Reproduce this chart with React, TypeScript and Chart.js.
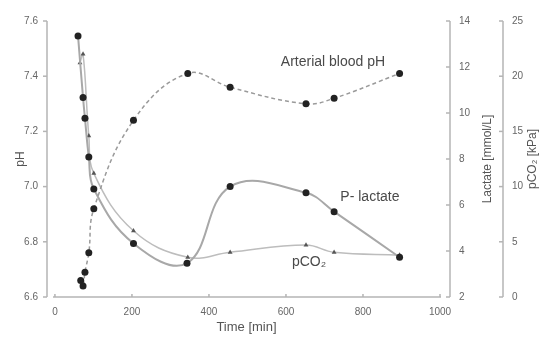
import React, { useEffect, useRef } from "react";
import { Chart, registerables } from "chart.js";

Chart.register(...registerables);

// ---- Data ----
const phTime = [67, 73, 78, 88, 101, 204, 345, 455, 652, 725, 895];
const phValues = [6.66, 6.64, 6.69, 6.76, 6.92, 7.24, 7.41, 7.36, 7.3, 7.32, 7.41];

const lactateTime = [60, 73, 78, 88, 101, 204, 343, 455, 652, 725, 895];
const lactateValues = [13.35, 10.67, 9.77, 8.09, 6.7, 4.33, 3.47, 6.8, 6.53, 5.71, 3.73];

const pco2Time = [65, 73, 88, 101, 204, 345, 455, 652, 725, 895];
const pco2Values = [21.2, 22.0, 14.6, 11.2, 6.0, 3.6, 4.05, 4.7, 4.05, 3.8];

const timeTicks = [0, 200, 400, 600, 800, 1000];
const phTicks = [6.6, 6.8, 7.0, 7.2, 7.4, 7.6];
const lactateTicks = [2, 4, 6, 8, 10, 12, 14];
const pco2Ticks = [0, 5, 10, 15, 20, 25];

const xTitle = "Time [min]";
const phTitle = "pH";
const lactateTitle = "Lactate [mmol/L]";
const pco2Title = "pCO\u2082 [kPa]";

// in-plot labels (text, time, value, scale id)
const seriesLabels = [
  { text: "Arterial blood pH", t: 722, v: 7.45, axis: "y" },
  { text: "P- lactate", t: 818, v: 6.36, axis: "yLac" },
  { text: "pCO\u2082", t: 660, v: 3.15, axis: "yCo2" },
];

const FONT = "'Liberation Sans', Arial, sans-serif";

const toPts = (xs: number[], ys: number[]) => xs.map((x, i) => ({ x, y: ys[i] }));

const customAxes = {
  id: "customAxes",
  afterDraw(chart: any) {
    const { ctx, chartArea, scales } = chart;
    const sx = scales.x;
    const sy = scales.y;
    const sl = scales.yLac;
    const sc = scales.yCo2;
    ctx.save();
    ctx.strokeStyle = "#b4b4b4";
    ctx.lineWidth = 1.5;
    const line = (x1: number, y1: number, x2: number, y2: number) => {
      ctx.beginPath();
      ctx.moveTo(x1, y1);
      ctx.lineTo(x2, y2);
      ctx.stroke();
    };
    // left pH axis (offset from plot)
    const lx = chartArea.left - 6;
    line(lx, sy.getPixelForValue(phTicks[phTicks.length - 1]), lx, sy.getPixelForValue(phTicks[0]));
    sy.ticks.forEach((t: any) => {
      const py = sy.getPixelForValue(t.value);
      line(lx - 4, py, lx, py);
    });
    // x axis
    const by = chartArea.bottom;
    line(chartArea.left, by, sx.getPixelForValue(1000) + 1, by);
    sx.ticks.forEach((t: any) => {
      const px = sx.getPixelForValue(t.value);
      line(px, by - 3, px, by);
    });
    // lactate axis
    const lacX = sl.left + 10;
    line(lacX, sl.getPixelForValue(14), lacX, sl.getPixelForValue(2));
    sl.ticks.forEach((t: any) => {
      const py = sl.getPixelForValue(t.value);
      line(lacX - 4, py, lacX, py);
    });
    // pCO2 axis
    const coX = sc.left;
    line(coX, sc.getPixelForValue(25), coX, sc.getPixelForValue(0));
    sc.ticks.forEach((t: any) => {
      const py = sc.getPixelForValue(t.value);
      line(coX - 4, py, coX, py);
    });

    // right titles, rotated bottom-to-top
    const midY = (chartArea.top + chartArea.bottom) / 2;
    ctx.fillStyle = "#555";
    ctx.font = `12px ${FONT}`;
    ctx.textAlign = "center";
    ctx.textBaseline = "middle";
    const vText = (text: string, x: number, y: number) => {
      ctx.save();
      ctx.translate(x, y);
      ctx.rotate(-Math.PI / 2);
      ctx.fillText(text, 0, 0);
      ctx.restore();
    };
    vText(lactateTitle, sl.left + 48, midY);
    vText(pco2Title, sc.left + 30, midY);

    // series labels
    ctx.fillStyle = "#4a4a4a";
    ctx.font = `14px ${FONT}`;
    seriesLabels.forEach((l) => {
      const s = scales[l.axis];
      ctx.fillText(l.text, sx.getPixelForValue(l.t), s.getPixelForValue(l.v));
    });
    ctx.restore();
  },
};

export default function App() {
  const ref = useRef<HTMLCanvasElement | null>(null);

  useEffect(() => {
    if (!ref.current) return;
    const tickFont = { family: FONT, size: 10 };
    const setTicks = (arr: number[]) => (scale: any) => {
      scale.ticks = arr.map((v) => ({ value: v }));
    };
    const fitV = (w: number) => (s: any) => {
      s.width = w;
      s.paddingTop = 0;
      s.paddingBottom = 0;
    };
    const noGrid = { display: false, drawTicks: false };
    const chart = new Chart(ref.current, {
      type: "line",
      data: {
        datasets: [
          {
            label: "pH",
            data: toPts(phTime, phValues),
            yAxisID: "y",
            borderColor: "#9a9a9a",
            borderWidth: 1.5,
            borderDash: [4, 3],
            tension: 0.4,
            pointRadius: 3.5,
            pointBackgroundColor: "#222",
            pointBorderColor: "#222",
            pointBorderWidth: 0,
          },
          {
            label: "Lactate",
            data: toPts(lactateTime, lactateValues),
            yAxisID: "yLac",
            borderColor: "#a8a8a8",
            borderWidth: 2,
            tension: 0.4,
            pointRadius: 3.5,
            pointBackgroundColor: "#222",
            pointBorderColor: "#222",
            pointBorderWidth: 0,
          },
          {
            label: "pCO2",
            data: toPts(pco2Time, pco2Values),
            yAxisID: "yCo2",
            borderColor: "#bdbdbd",
            borderWidth: 1.5,
            tension: 0.4,
            pointStyle: "triangle",
            pointRadius: 2.8,
            pointBackgroundColor: "#555",
            pointBorderColor: "#555",
            pointBorderWidth: 0,
          },
        ],
      },
      options: {
        animation: false,
        responsive: false,
        maintainAspectRatio: false,
        layout: { padding: { top: 21, right: 0, bottom: 0, left: 0 } },
        plugins: { legend: { display: false }, tooltip: { enabled: false } },
        scales: {
          x: {
            type: "linear",
            position: "bottom",
            min: -5,
            max: 1000,
            afterBuildTicks: setTicks(timeTicks),
            afterFit: (s: any) => {
              s.height = 41;
              s.paddingLeft = 0;
              s.paddingRight = 0;
            },
            grid: noGrid,
            border: { display: false },
            ticks: { font: tickFont, color: "#666", padding: 9, callback: (v: any) => String(v) },
            title: {
              display: true,
              text: xTitle,
              font: { family: FONT, size: 13 },
              color: "#555",
              padding: { top: 0, bottom: 3 },
            },
          },
          y: {
            type: "linear",
            position: "left",
            min: 6.6,
            max: 7.6,
            afterBuildTicks: setTicks(phTicks),
            afterFit: fitV(53),
            grid: noGrid,
            border: { display: false },
            ticks: {
              font: tickFont,
              color: "#666",
              padding: 15,
              callback: (v: any) => Number(v).toFixed(1),
            },
            title: {
              display: true,
              text: phTitle,
              font: { family: FONT, size: 12 },
              color: "#555",
              padding: { top: 13, bottom: 0 },
            },
          },
          yLac: {
            type: "linear",
            position: "right",
            min: 2,
            max: 14,
            afterBuildTicks: setTicks(lactateTicks),
            afterFit: fitV(63),
            grid: noGrid,
            border: { display: false },
            ticks: { font: tickFont, color: "#666", padding: 19 },
          },
          yCo2: {
            type: "linear",
            position: "right",
            min: 0,
            max: 25,
            afterBuildTicks: setTicks(pco2Ticks),
            afterFit: fitV(46),
            grid: noGrid,
            border: { display: false },
            ticks: { font: tickFont, color: "#666", padding: 9 },
          },
        },
      },
      plugins: [customAxes],
    });
    return () => chart.destroy();
  }, []);

  return (
    <div style={{ position: "fixed", left: 0, top: 0, width: 549, height: 338, background: "#fff" }}>
      <canvas ref={ref} width={549} height={338} style={{ display: "block" }} />
    </div>
  );
}
